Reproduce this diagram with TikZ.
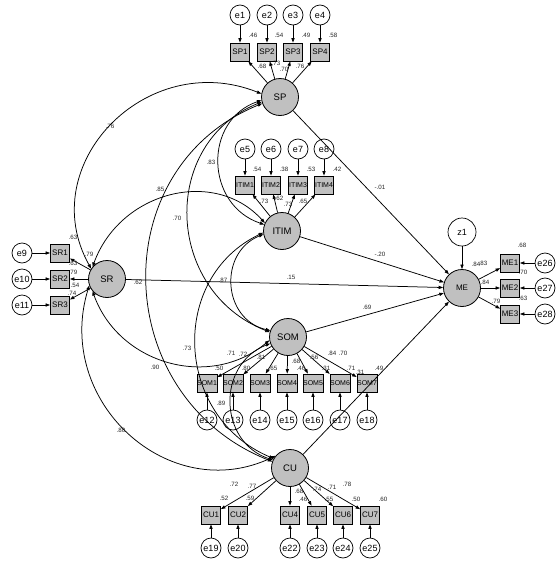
\documentclass[tikz,border=0pt]{standalone}
\usepackage{fontspec}
\setmainfont{Liberation Sans}
\usetikzlibrary{arrows.meta}
\definecolor{latfill}{RGB}{192,192,192}
\begin{document}
\begin{tikzpicture}[x=1pt,y=-1pt,
  >={Triangle[length=4.5pt,width=3.2pt]},
  lat/.style={circle,draw,line width=0.8pt,fill=latfill,minimum size=37pt,inner sep=0pt,font=\fontsize{9.5}{10}\selectfont},
  obs/.style={rectangle,draw,line width=0.8pt,fill=latfill,minimum width=19pt,minimum height=18pt,inner sep=0pt,font=\fontsize{8}{8}\selectfont},
  obsn/.style={obs,font=\fontsize{7}{7}\selectfont},
  err/.style={circle,draw,line width=0.7pt,fill=white,minimum size=20pt,inner sep=0pt,font=\fontsize{9}{9}\selectfont},
  num/.style={inner sep=0pt,text=black!85,font=\fontsize{6.2}{6.2}\selectfont},
  reg/.style={->,line width=0.75pt},
  cov/.style={<->,line width=0.75pt}]
\useasboundingbox (0,0) rectangle (556,565);

% latent variables
\node[lat] (SP) at (280,97) {SP};
\node[lat] (ITIM) at (282,231) {ITIM};
\node[lat] (SR) at (107,279) {SR};
\node[lat] (SOM) at (288,337) {SOM};
\node[lat] (CU) at (290,468) {CU};
\node[lat,font=\fontsize{8}{8}\selectfont] (ME) at (462,288) {ME};
\node[err,minimum size=28pt] (z1) at (462,232) {z1};

% indicators with their error terms
\foreach \i/\x in {1/240,2/267,3/293,4/320}{
  \node[obs] (SP\i) at (\x,52) {SP\i};
  \node[err] (e\i) at (\x,15) {e\i};
  \draw[reg] (e\i) -- (SP\i);
  \draw[reg] (SP) -- (SP\i);
}
\foreach \i/\x/\e in {1/245/5,2/271/6,3/298/7,4/324/8}{
  \node[obsn] (ITIM\i) at (\x,185) {ITIM\i};
  \node[err] (e\e) at (\x,149) {e\e};
  \draw[reg] (e\e) -- (ITIM\i);
  \draw[reg] (ITIM) -- (ITIM\i);
}
\foreach \i/\y/\e in {1/253/9,2/279/10,3/305/11}{
  \node[obs] (SR\i) at (60,\y) {SR\i};
  \node[err] (e\e) at (22,\y) {e\e};
  \draw[reg] (e\e) -- (SR\i);
  \draw[reg] (SR) -- (SR\i);
}
\foreach \i/\x/\e in {1/207/12,2/233/13,3/260/14,4/287/15,5/313/16,6/340/17,7/367/18}{
  \node[obsn] (SOM\i) at (\x,383) {SOM\i};
  \node[err] (e\e) at (\x,420) {e\e};
  \draw[reg] (e\e) -- (SOM\i);
  \draw[reg] (SOM) -- (SOM\i);
}
\foreach \i/\x/\e in {1/211/19,2/238/20,4/290/22,5/317/23,6/343/24,7/370/25}{
  \node[obs] (CU\i) at (\x,515) {CU\i};
  \node[err] (e\e) at (\x,548) {e\e};
  \draw[reg] (e\e) -- (CU\i);
  \draw[reg] (CU) -- (CU\i);
}
\foreach \i/\y/\e in {1/263/26,2/288/27,3/314/28}{
  \node[obs] (ME\i) at (510,\y) {ME\i};
  \node[err] (e\e) at (545,\y) {e\e};
  \draw[reg] (e\e) -- (ME\i);
  \draw[reg] (ME) -- (ME\i);
}

% structural paths
\draw[reg] (SP) -- (ME);
\draw[reg] (ITIM) -- (ME);
\draw[reg] (SR) -- (ME);
\draw[reg] (SOM) -- (ME);
\draw[reg] (CU) -- (ME);
\draw[reg] (z1) -- (ME);

% covariances among the exogenous factors
\draw[cov] (SP.170) .. controls (146.6,47.9) and (33.1,164.6) .. (SR.147);
\draw[cov] (SP.190) .. controls (203.2,120.3) and (205,204.6) .. (ITIM.160);
\draw[cov] (SP.195) .. controls (159.8,143.2) and (164.2,290.6) .. (SOM.165);
\draw[cov] (SP.200) .. controls (103.4,168.1) and (109.8,396.9) .. (CU.160);
\draw[cov] (SR.140) .. controls (120.1,191.4) and (214.6,167.2) .. (ITIM.155);
\draw[cov] (SR.220) .. controls (118.9,364.3) and (209.8,390) .. (SOM.190);
\draw[cov] (SR.200) .. controls (53.7,401.2) and (168.8,507) .. (CU.140);
\draw[cov] (ITIM.190) .. controls (218.3,252.6) and (222.3,319.2) .. (SOM.160);
\draw[cov] (ITIM.185) .. controls (168.4,278.1) and (174.7,416.7) .. (CU.150);
\draw[cov] (SOM.200) .. controls (216.2,364.7) and (218.6,441.8) .. (CU.155);

% estimates
\foreach \x/\y/\t [count=\k] in {
  253/35/.46, 279/35/.54, 306/35/.49, 333/35/.58,
  262/66/.68, 276/63/.73, 284/69/.70, 300/66/.76,
  257/169/.54, 284/169/.38, 311/169/.53, 337/169/.42,
  264/201/.73, 279/198/.62, 288/204/.73, 303/201/.65,
  73/237/.63, 89/254/.79, 73/263/.63, 73/272/.79, 75/285/.54, 72/293/.74,
  380/187/-.01, 380/254/-.20, 291/277/.15, 367/307/.69, 138/282/.62, 360/372/.31,
  110/126/.76, 211/162/.83, 160/189/.85, 177/218/.70, 223/280/.87,
  187/348/.73, 155/367/.90, 121/430/.80, 221/403/.89,
  522/245/.68, 476/264/.84, 483/263/.83, 523/272/.70, 485/282/.84, 496/301/.79, 523/298/.63,
  231/353/.71, 243/354/.72, 261/357/.81, 296/361/.68, 314/357/.56, 332/353/.84, 343/353/.70,
  219/368/.50, 246/368/.80, 273/368/.65, 301/368/.46, 326/368/.31, 351/368/.71, 379/368/.49,
  234/484/.72, 252/486/.77, 224/498/.52, 250/498/.59, 299/491/.68, 303/499/.46,
  317/489/.74, 332/487/.71, 347/484/.78, 329/499/.55, 356/499/.50, 383/499/.60}
  \node[num] (est\k) at (\x,\y) {\t};
\end{tikzpicture}
\end{document}
